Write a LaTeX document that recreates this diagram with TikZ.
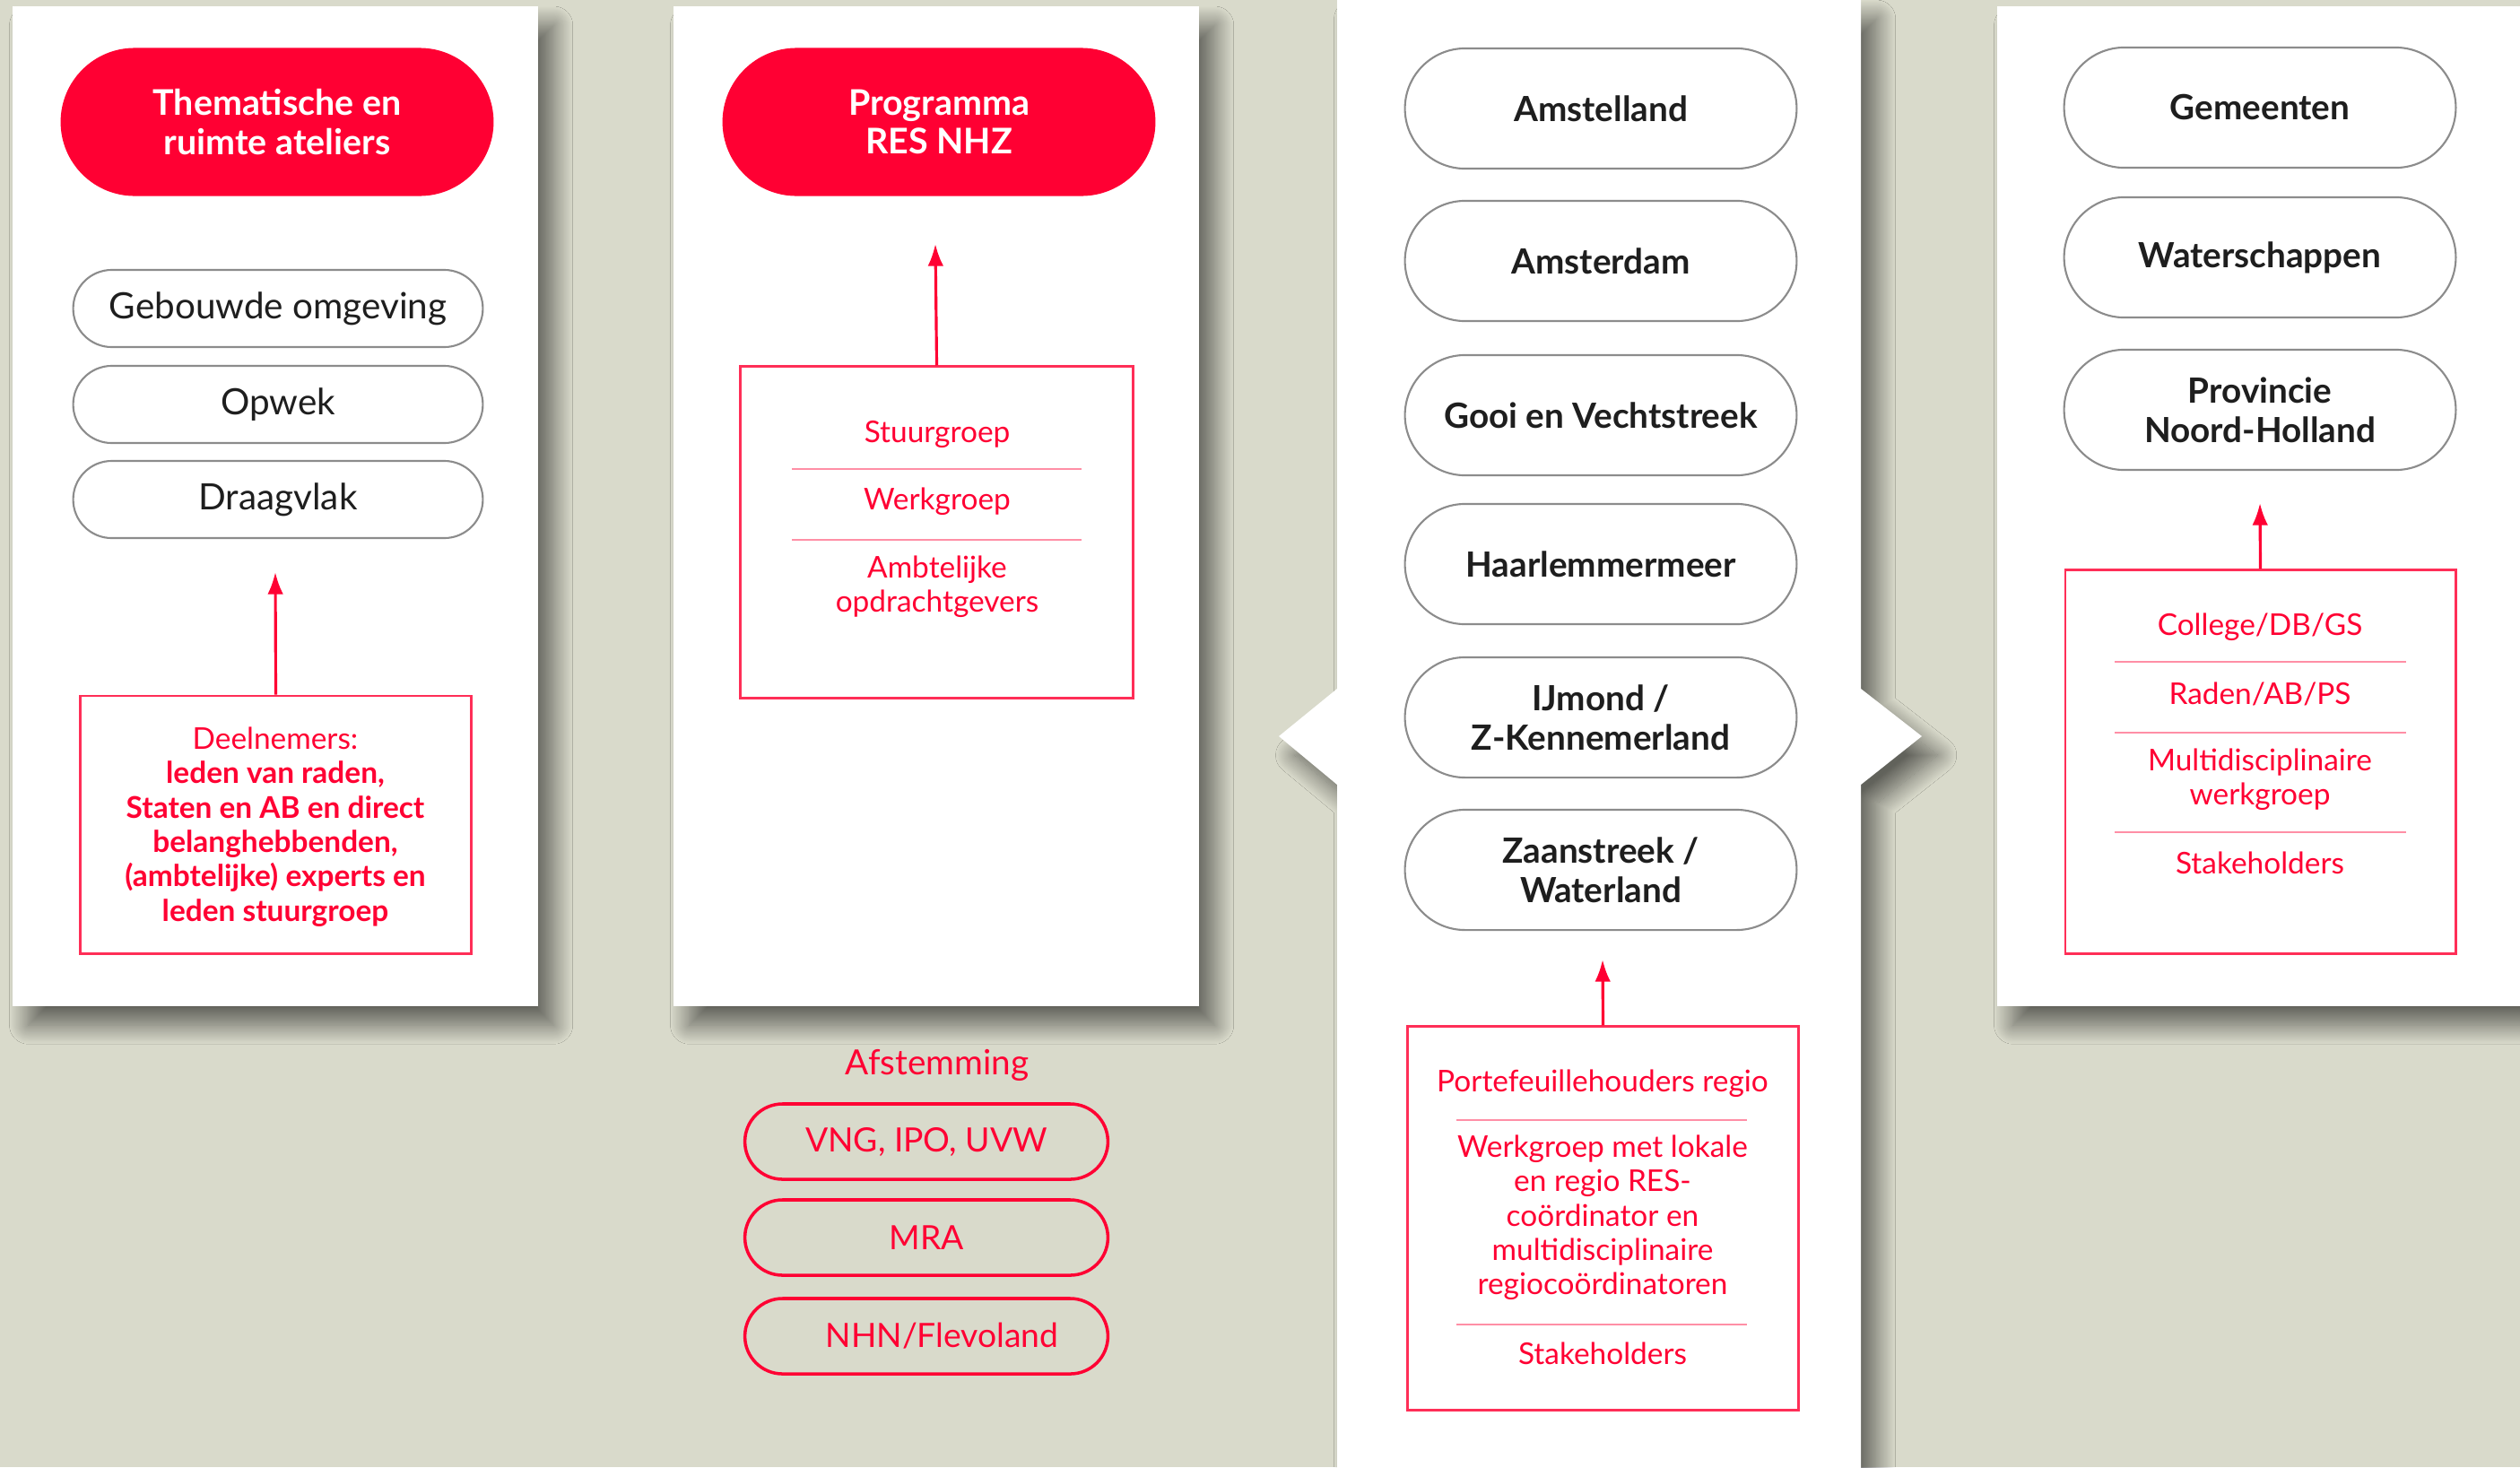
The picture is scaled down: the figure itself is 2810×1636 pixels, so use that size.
\documentclass[tikz,border=0pt]{standalone}
\usepackage{fontspec}
\setmainfont{Lato}
\usetikzlibrary{shapes.misc,shadows.blur,arrows.meta}

\definecolor{resred}{HTML}{FF0033}
\definecolor{boxred}{HTML}{FF2E57}
\definecolor{linered}{HTML}{FF8FA6}
\definecolor{bgcol}{HTML}{D9DACB}
\definecolor{pillgray}{HTML}{8C8C8C}
\definecolor{ink}{HTML}{1E1E1E}

\tikzset{
  panel/.style={fill=white, blur shadow={shadow xshift=5pt, shadow yshift=-6pt,
      shadow blur radius=6pt, shadow blur steps=24, shadow opacity=55}},
  headpill/.style={rounded rectangle, fill=resred, text=white, align=center,
      font=\fontsize{11.2}{12.4}\selectfont\bfseries, minimum width=5.06cm, minimum height=1.65cm},
  themapill/.style={rounded rectangle, draw=pillgray, line width=0.6pt, text=ink,
      font=\fontsize{11.5}{13}\selectfont, minimum width=4.8cm, minimum height=0.86cm},
  regiopill/.style={rounded rectangle, draw=pillgray, line width=0.6pt, text=ink, align=center,
      font=\fontsize{11}{12.4}\selectfont\bfseries, minimum width=4.6cm, minimum height=1.34cm},
  afspill/.style={rounded rectangle, draw=resred, line width=1pt, text=resred,
      font=\fontsize{10.6}{13}\selectfont, minimum width=4.28cm, minimum height=0.84cm},
  redbox/.style={draw=boxred, line width=0.8pt, inner sep=0pt},
  boxtext/.style={text=resred, align=center, font=\fontsize{9.5}{10.9}\selectfont},
  sepline/.style={draw=linered, line width=0.5pt},
  uparrow/.style={draw=resred, line width=0.9pt, -{Latex[length=7pt,width=5pt]}}
}

\begin{document}
\begin{tikzpicture}[x=0.01cm, y=-0.01cm]
        % Background
        \fill[bgcol] (0,0) rectangle (2810,1636);
        \useasboundingbox (0,0) rectangle (2810,1636);
        % Panels
        \path[panel] (14,7) rectangle (600,1122);
        \path[panel] (751,7) rectangle (1337,1122);
        \path[panel] (1491,0) -- (2075,0) -- (2075,768) -- (2143,821) -- (2075,875)
            -- (2075,1700) -- (1491,1700) -- (1491,875) -- (1426,821) -- (1491,768) -- cycle;
        \path[panel] (2227,7) rectangle (2900,1122);

        % Column 1
        \node[headpill] (thema) at (309,136) {Thematische en\\ruimte ateliers};
        \node[themapill] (gebouwd) at (310,344) {Gebouwde omgeving};
        \node[themapill] (opwek) at (310,451) {Opwek};
        \node[themapill] (draag) at (310,557) {Draagvlak};
        \node[redbox, minimum width=4.35cm, minimum height=2.87cm] (deelbox) at (307.5,919.5) {};
        \node[boxtext] (deel) at (307,922) {Deelnemers:\\ \textbf{leden van raden,}\\
            \textbf{Staten en AB en direct}\\ \textbf{belanghebbenden,}\\
            \textbf{(ambtelijke) experts en}\\ \textbf{leden stuurgroep}};
        \coordinate (tip1) at (307,638);
        \draw[uparrow] (deelbox.north) -- (tip1);

        % Column 2
        \node[headpill] (prog) at (1047,136) {Programma\\RES NHZ};
        \node[redbox, minimum width=4.37cm, minimum height=3.69cm] (stuurbox) at (1044.5,593.5) {};
        \node[boxtext] (stuur) at (1045,484) {Stuurgroep};
        \node[boxtext] (werk) at (1045,559) {Werkgroep};
        \node[boxtext] (ambt) at (1045,654) {Ambtelijke\\opdrachtgevers};
        \draw[sepline] (883,523) -- (1206,523);
        \draw[sepline] (883,602) -- (1206,602);
        \coordinate (tip2) at (1043,272);
        \draw[uparrow] (stuurbox.north) -- (tip2);
        % Afstemming
        \node[text=resred, font=\fontsize{11}{13}\selectfont] (afst) at (1045,1188) {Afstemming};
        \node[afspill] (vng) at (1033,1273) {VNG, IPO, UVW};
        \node[afspill] (mra) at (1033,1380) {MRA};
        \node[afspill] (nhn) at (1033,1490) {\hspace{0.35cm}NHN/Flevoland};

        % Column 3
        \node[regiopill] (amstelland) at (1785,121) {Amstelland};
        \node[regiopill] (amsterdam) at (1785,291) {Amsterdam};
        \node[regiopill] (gooi) at (1785,463) {Gooi en Vechtstreek};
        \node[regiopill] (haarlem) at (1785,629) {Haarlemmermeer};
        \node[regiopill] (ijmond) at (1785,800) {IJmond /\\Z-Kennemerland};
        \node[regiopill] (zaan) at (1785,970) {Zaanstreek /\\Waterland};
        \node[redbox, minimum width=4.35cm, minimum height=4.27cm] (portbox) at (1787.5,1358.5) {};
        \node[boxtext] (port) at (1787,1208) {Portefeuillehouders regio};
        \node[boxtext] (werkregio) at (1787,1358) {Werkgroep met lokale\\en regio RES-\\co\"ordinator en\\multidisciplinaire\\regioco\"ordinatoren};
        \node[boxtext] (stake1) at (1787,1509) {Stakeholders};
        \draw[sepline] (1624,1249) -- (1948,1249);
        \draw[sepline] (1624,1477) -- (1948,1477);
        \coordinate (tip3) at (1787,1070);
        \draw[uparrow] (portbox.north) -- (tip3);

        % Column 4
        \node[regiopill] (gem) at (2520,120) {Gemeenten};
        \node[regiopill] (water) at (2520,287) {Waterschappen};
        \node[regiopill] (prov) at (2520,457) {Provincie\\Noord-Holland};
        \node[redbox, minimum width=4.35cm, minimum height=4.27cm] (collbox) at (2520.5,849.5) {};
        \node[boxtext] (coll) at (2520,699) {College/DB/GS};
        \node[boxtext] (raden) at (2520,774) {Raden/AB/PS};
        \node[boxtext] (multi) at (2520,869) {Multidisciplinaire\\werkgroep};
        \node[boxtext] (stake2) at (2520,962) {Stakeholders};
        \draw[sepline] (2358,738) -- (2683,738);
        \draw[sepline] (2358,817) -- (2683,817);
        \draw[sepline] (2358,928) -- (2683,928);
        \coordinate (tip4) at (2520,561);
        \draw[uparrow] (collbox.north) -- (tip4);
\end{tikzpicture}
\end{document}
